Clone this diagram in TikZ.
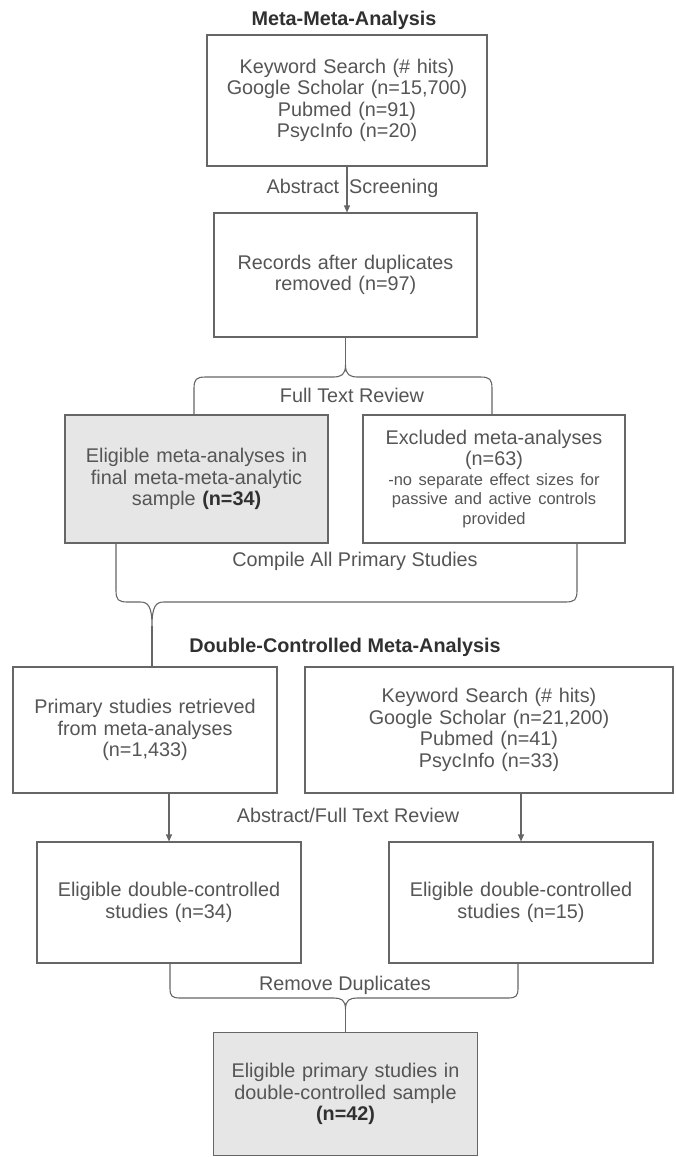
\documentclass[tikz,border=0pt]{standalone}
\usepackage{fontspec}
\setmainfont{Liberation Sans}
\usetikzlibrary{arrows.meta}
\definecolor{txt}{HTML}{555555}
\definecolor{ln}{HTML}{666666}
\definecolor{fillg}{HTML}{E6E6E6}
\definecolor{ttl}{HTML}{303030}
\newcommand{\mainsz}{\fontsize{19.8}{21.5}\selectfont}
\newcommand{\smallsz}{\fontsize{16.5}{19.5}\selectfont}
\tikzset{
  box/.style={draw=ln, line width=1.1pt, rectangle, inner sep=0pt, text width=250pt,
              align=center, font=\mainsz, text=txt},
  gbox/.style={box, fill=fillg},
  lbl/.style={font=\mainsz, text=txt, inner sep=0pt},
  ttlstyle/.style={font=\mainsz\bfseries, text=ttl, inner sep=0pt},
  arr/.style={draw=ln, line width=1.1pt, -{Triangle[width=6pt,length=7pt]}},
  conn/.style={draw=ln, line width=1.1pt, line join=round},
}
\begin{document}
\begin{tikzpicture}[x=1pt,y=-1pt]
\useasboundingbox[fill=white] (0,0) rectangle (676,1157);

% titles
\node[ttlstyle] (t1) at (344,20) {Meta-Meta-Analysis};
\node[ttlstyle] (t2) at (345,647) {Double-Controlled Meta-Analysis};

% boxes
\node[box, minimum width=280pt, minimum height=131pt] (b1) at (347,100.5)
  {Keyword Search (\# hits)\\Google Scholar (n=15,700)\\Pubmed (n=91)\\PsycInfo (n=20)};
\node[box, minimum width=263pt, minimum height=124pt] (b2) at (345.5,275)
  {Records after duplicates\\removed (n=97)};
\node[gbox, minimum width=263pt, minimum height=128pt] (b3) at (196.5,479)
  {Eligible meta-analyses in\\final meta-meta-analytic\\sample \textbf{\color{ttl}(n=34)}};
\node[box, minimum width=262pt, minimum height=128pt] (b4) at (494,479)
  {{\mainsz Excluded meta-analyses\\(n=63)\par}{\smallsz -no separate effect sizes for\\passive and active controls\\provided\par}};
\node[box, minimum width=264pt, minimum height=126pt] (b5) at (145,730)
  {Primary studies retrieved\\from meta-analyses\\(n=1,433)};
\node[box, minimum width=368pt, minimum height=126pt] (b6) at (489,730)
  {Keyword Search (\# hits)\\Google Scholar (n=21,200)\\Pubmed (n=41)\\PsycInfo (n=33)};
\node[box, minimum width=264pt, minimum height=121pt] (b7) at (169,902.5)
  {Eligible double-controlled\\studies (n=34)};
\node[box, minimum width=264pt, minimum height=121pt] (b8) at (521,902.5)
  {Eligible double-controlled\\studies (n=15)};
\node[gbox, minimum width=264pt, minimum height=123pt] (b9) at (345.5,1094)
  {Eligible primary studies in\\double-controlled sample\\\textbf{\color{ttl}(n=42)}};

% labels
\node[lbl] (l1) at (352.5,188) {Abstract\hspace{10pt}Screening};
\node[lbl] (l2) at (352,395) {Full Text Review};
\node[lbl] (l3) at (355,561) {Compile All Primary Studies};
\node[lbl] (l4) at (348,815) {Abstract/Full Text Review};
\node[lbl] (l5) at (345,985) {Remove Duplicates};

% arrow 1
\draw[arr] (b1.south) -- (b1.south |- b2.north);

% brace 1
\coordinate (k1) at (345.5,365);
\draw[conn] (b2.south) -- (k1);
\draw[conn] (194,415) -- (194,389) .. controls (194,379) and (196,377) .. (206,377)
  -- (333,377) .. controls (341,377) and (345.5,375) .. (k1)
  .. controls (345.5,375) and (350,377) .. (358,377)
  -- (480,377) .. controls (490,377) and (492,379) .. (492,389) -- (492,415);

% brace 2
\coordinate (k2) at (152,626);
\draw[conn] (116,543) -- (116,590) .. controls (116,600) and (118,602) .. (128,602)
  -- (140,602) .. controls (148,602) and (152,606) .. (k2)
  .. controls (152,606) and (156,602) .. (164,602)
  -- (565,602) .. controls (575,602) and (577,600) .. (577,590) -- (577,543);
\draw[conn] (k2) -- (k2 |- b5.north);

% arrows 2
\draw[arr] (b7.north |- b5.south) -- (b7.north);
\draw[arr] (b8.north |- b6.south) -- (b8.north);

% brace 3
\coordinate (k3) at (345.5,1009);
\draw[conn] (170,963) -- (170,988) .. controls (170,996) and (172,998) .. (180,998)
  -- (334,998) .. controls (341,998) and (345.5,1000) .. (k3)
  .. controls (345.5,1000) and (350,998) .. (357,998)
  -- (508,998) .. controls (516,998) and (518,996) .. (518,988) -- (518,963);
\draw[conn] (k3) -- (b9.north);
\end{tikzpicture}
\end{document}
